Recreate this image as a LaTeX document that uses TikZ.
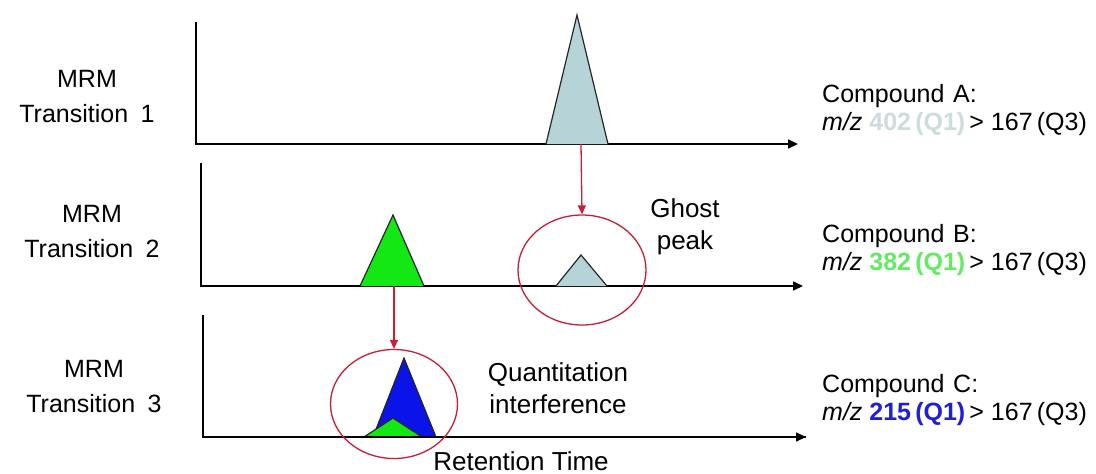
\documentclass[tikz,border=0pt]{standalone}
\usepackage{fontspec}
\setmainfont{Liberation Sans}
\usetikzlibrary{arrows.meta,shapes.geometric}
\definecolor{peakA}{RGB}{182,212,216}
\definecolor{peakB}{RGB}{20,232,20}
\definecolor{peakC}{RGB}{10,20,232}
\definecolor{ringred}{RGB}{200,30,55}
\definecolor{txtA}{RGB}{205,220,220}
\definecolor{txtB}{RGB}{100,235,100}
\definecolor{txtC}{RGB}{30,30,220}
\newcommand{\mzline}[2]{\textit{m/z} {\color{#1}\bfseries #2\,(Q1)}\,> 167\,(Q3)}
\tikzset{
  axisline/.style={line width=1.6pt, -{Triangle[length=10pt,width=9pt]}},
  peakshape/.style={line width=1.2pt, draw=black!85, line join=miter},
  ring/.style={ellipse, draw=ringred, line width=1.3pt, inner sep=0pt},
  redarrow/.style={draw=ringred, line width=1.3pt, -{Triangle[length=9pt,width=8pt]}},
  lbl/.style={font=\fontsize{25}{35}\selectfont, align=center, inner sep=0pt, anchor=north},
  cmp/.style={font=\fontsize{25}{28}\selectfont, align=left, inner sep=0pt, anchor=north west},
  note/.style={font=\fontsize{26}{32}\selectfont, align=center, inner sep=0pt, anchor=north}
}
\begin{document}
\begin{tikzpicture}[x=1pt,y=-1pt]
\useasboundingbox[fill=white] (0,0) rectangle (1096,474);
% axes
\coordinate (t1) at (196,22);  \coordinate (o1) at (196,144); \coordinate (e1) at (798,144);
\coordinate (t2) at (201,163); \coordinate (o2) at (201,286); \coordinate (e2) at (803,286);
\coordinate (t3) at (203,315); \coordinate (o3) at (203,437); \coordinate (e3) at (806,437);
\draw[axisline] (t1) -- (o1) -- (e1);
\draw[axisline] (t2) -- (o2) -- (e2);
\draw[axisline] (t3) -- (o3) -- (e3);
% peaks
\draw[peakshape, fill=peakA] (546,144) -- (577,15) -- (608,144);
\draw[peakshape, fill=peakA] (556,286) -- (581,255) -- (607,286);
\draw[peakshape, fill=peakB] (360,286) -- (393,215) -- (424,286);
\draw[peakshape, fill=peakC] (373,437) -- (404,358) -- (436,437);
\draw[peakshape, fill=peakB] (364,437) -- (393,418) -- (422,437);
\draw[line width=1.6pt] (o3) -- (e3);
% rings
\node[ring, minimum width=128pt, minimum height=110pt] (ghost) at (582,270) {};
\node[ring, minimum width=127pt, minimum height=109pt] (interf) at (394,404) {};
\coordinate (fromA) at (581,144);
\coordinate (fromB) at (394,286);
\draw[redarrow] (fromA) -- (ghost.north);
\draw[redarrow] (fromB) -- (interf.north);
% left labels
\node[lbl] (m1) at (87,70) {MRM\\Transition\hspace{0.5em}1};
\node[lbl] (m2) at (92,205) {MRM\\Transition\hspace{0.5em}2};
\node[lbl] (m3) at (94,360) {MRM\\Transition\hspace{0.5em}3};
% notes
\node[note] (gp) at (685,198) {Ghost\\peak};
\node[note] (qi) at (558,362) {Quantitation\\interference};
\node[note] (rt) at (521,451) {Retention Time};
% compound labels
\node[cmp] (ca) at (822,84) {Compound\hspace{0.35em}A:\\\mzline{txtA}{402}};
\node[cmp] (cb) at (822,224) {Compound\hspace{0.35em}B:\\\mzline{txtB}{382}};
\node[cmp] (cc) at (822,374) {Compound\hspace{0.35em}C:\\\mzline{txtC}{215}};
\end{tikzpicture}
\end{document}
